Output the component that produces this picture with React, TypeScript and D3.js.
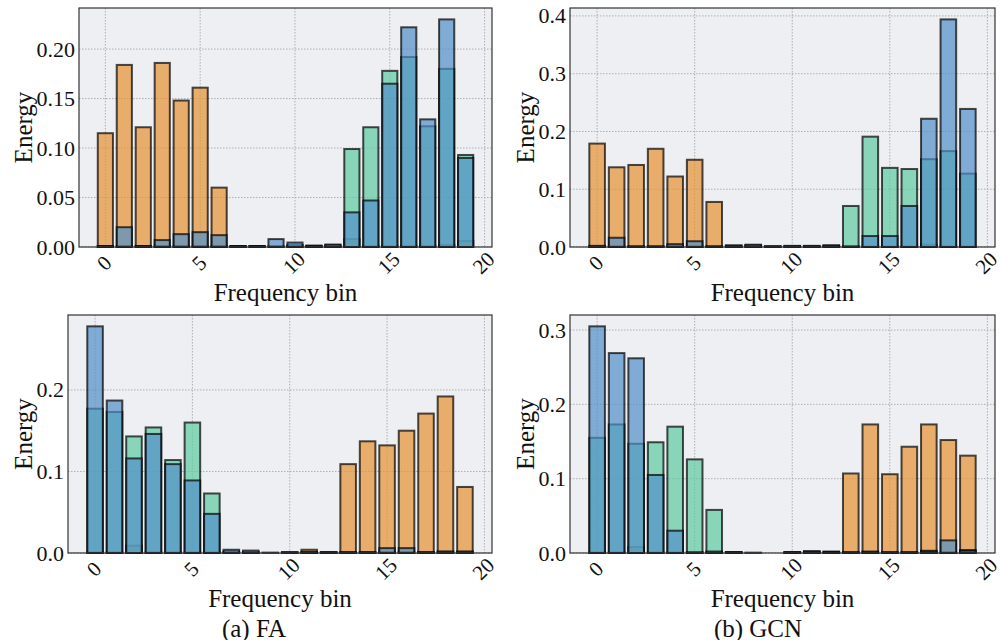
import React, { useEffect, useRef } from 'react';
import * as d3 from 'd3';

// frequency bins (categories)
const bins = [0, 1, 2, 3, 4, 5, 6, 7, 8, 9, 10, 11, 12, 13, 14, 15, 16, 17, 18, 19];
const xTicks = [0, 5, 10, 15, 20];

// (a) FA, top row
const faTopOrange = [0.115, 0.184, 0.121, 0.186, 0.148, 0.161, 0.060, 0.001, 0.001, 0.0, 0.001, 0.001, 0.001, 0.008, 0.001, 0.001, 0.001, 0.001, 0.002, 0.006];
const faTopGreen = [0.001, 0.001, 0.001, 0.001, 0.001, 0.001, 0.001, 0.0005, 0.0005, 0.001, 0.002, 0.001, 0.002, 0.099, 0.121, 0.178, 0.192, 0.122, 0.180, 0.093];
const faTopBlue = [0.001, 0.020, 0.001, 0.007, 0.013, 0.015, 0.012, 0.001, 0.001, 0.008, 0.0045, 0.0015, 0.0025, 0.035, 0.047, 0.165, 0.222, 0.129, 0.230, 0.090];
const faTopTicks = [0, 0.05, 0.1, 0.15, 0.2];

// (b) GCN, top row
const gcnTopOrange = [0.179, 0.138, 0.142, 0.170, 0.122, 0.151, 0.078, 0.002, 0.003, 0.001, 0.001, 0.001, 0.002, 0.001, 0.001, 0.001, 0.001, 0.004, 0.001, 0.001];
const gcnTopGreen = [0.001, 0.001, 0.001, 0.001, 0.002, 0.001, 0.001, 0.001, 0.002, 0.001, 0.001, 0.001, 0.002, 0.071, 0.191, 0.137, 0.135, 0.152, 0.166, 0.127];
const gcnTopBlue = [0.002, 0.016, 0.001, 0.001, 0.005, 0.010, 0.001, 0.003, 0.004, 0.001, 0.002, 0.002, 0.003, 0.001, 0.019, 0.019, 0.071, 0.222, 0.394, 0.239];
const gcnTopTicks = [0, 0.1, 0.2, 0.3, 0.4];

// (a) FA, bottom row
const faBottomOrange = [0.001, 0.001, 0.009, 0.001, 0.001, 0.001, 0.001, 0.001, 0.001, 0.0, 0.001, 0.004, 0.001, 0.109, 0.137, 0.132, 0.150, 0.171, 0.192, 0.081];
const faBottomGreen = [0.177, 0.173, 0.143, 0.154, 0.114, 0.160, 0.073, 0.002, 0.001, 0.0, 0.0, 0.001, 0.0005, 0.001, 0.001, 0.001, 0.001, 0.001, 0.001, 0.001];
const faBottomBlue = [0.278, 0.187, 0.116, 0.146, 0.109, 0.089, 0.048, 0.004, 0.003, 0.0005, 0.001, 0.001, 0.001, 0.001, 0.001, 0.006, 0.006, 0.001, 0.002, 0.002];
const faBottomTicks = [0, 0.1, 0.2];

// (b) GCN, bottom row
const gcnBottomOrange = [0.001, 0.001, 0.008, 0.001, 0.001, 0.001, 0.001, 0.001, 0.0, 0.0, 0.001, 0.002, 0.002, 0.107, 0.173, 0.106, 0.143, 0.173, 0.152, 0.131];
const gcnBottomGreen = [0.155, 0.173, 0.147, 0.149, 0.170, 0.126, 0.058, 0.001, 0.0005, 0.0, 0.001, 0.002, 0.001, 0.001, 0.002, 0.001, 0.001, 0.003, 0.001, 0.004];
const gcnBottomBlue = [0.305, 0.269, 0.262, 0.105, 0.030, 0.001, 0.002, 0.001, 0.0, 0.0, 0.001, 0.002, 0.001, 0.001, 0.001, 0.001, 0.001, 0.002, 0.017, 0.003];
const gcnBottomTicks = [0, 0.1, 0.2, 0.3];

const ORANGE = '#e59132';
const GREEN = '#5ccaa1';
const BLUE = '#518fc8';
const FONT = '"Liberation Serif", "Times New Roman", serif';

const drawPanel = (svg, box, series, yTicks, fmt) => {
  const g = svg.append('g');

  const x = d3.scaleLinear().domain([-1.39, 20.39]).range([box.left, box.right]);
  const maxV = d3.max(series.flatMap(s => s.values));
  const y = d3.scaleLinear().domain([0, maxV * 1.05]).range([box.bottom, box.top]);

  g.append('rect')
    .attr('x', box.left).attr('y', box.top)
    .attr('width', box.right - box.left).attr('height', box.bottom - box.top)
    .attr('fill', '#eeeff2');

  // grid
  g.selectAll('.vgrid').data(xTicks).enter().append('line')
    .attr('x1', d => x(d)).attr('x2', d => x(d))
    .attr('y1', box.top).attr('y2', box.bottom)
    .attr('stroke', '#a8a8a8').attr('stroke-width', 0.9).attr('stroke-dasharray', '1.5,1.5');
  g.selectAll('.hgrid').data(yTicks).enter().append('line')
    .attr('x1', box.left).attr('x2', box.right)
    .attr('y1', d => y(d)).attr('y2', d => y(d))
    .attr('stroke', '#a8a8a8').attr('stroke-width', 0.9).attr('stroke-dasharray', '1.5,1.5');

  // bars, one series after the other
  series.forEach(s => {
    g.append('g').selectAll('rect').data(bins).enter().append('rect')
      .attr('x', d => x(d - 0.4))
      .attr('width', x(0.8) - x(0))
      .attr('y', (d, i) => y(s.values[i]))
      .attr('height', (d, i) => y(0) - y(s.values[i]))
      .attr('fill', s.color).attr('fill-opacity', 0.7)
      .attr('stroke', 'black').attr('stroke-opacity', 0.7).attr('stroke-width', 2);
  });

  g.append('rect')
    .attr('x', box.left).attr('y', box.top)
    .attr('width', box.right - box.left).attr('height', box.bottom - box.top)
    .attr('fill', 'none').attr('stroke', '#333').attr('stroke-width', 1.2);

  // y tick labels
  const yl = g.selectAll('.ytick').data(yTicks).enter().append('text')
    .attr('x', box.left - 4).attr('y', d => y(d))
    .attr('text-anchor', 'end').attr('dominant-baseline', 'central')
    .attr('font-family', FONT).attr('font-size', 22).attr('fill', '#111')
    .text(d => d3.format(fmt)(d));
  let tickW = 0;
  yl.each(function () { tickW = Math.max(tickW, this.getBBox().width); });

  // x tick labels, rotated 45deg
  g.selectAll('.xtick').data(xTicks).enter().append('text')
    .attr('transform', d => `translate(${x(d) - 1},${box.bottom + 16}) rotate(-45)`)
    .attr('text-anchor', 'middle').attr('dominant-baseline', 'central')
    .attr('font-family', FONT).attr('font-size', 21).attr('fill', '#111')
    .text(d => d);

  g.append('text')
    .attr('x', (box.left + box.right) / 2).attr('y', box.bottom + 45)
    .attr('text-anchor', 'middle').attr('dominant-baseline', 'central')
    .attr('font-family', FONT).attr('font-size', 25).attr('fill', '#111')
    .text('Frequency bin');

  const ey = (box.top + box.bottom) / 2;
  const ex = box.left - 4 - tickW - 13;
  g.append('text')
    .attr('transform', `translate(${ex},${ey}) rotate(-90)`)
    .attr('text-anchor', 'middle').attr('dominant-baseline', 'central')
    .attr('font-family', FONT).attr('font-size', 25).attr('fill', '#111')
    .text('Energy');
};

const App = () => {
  const ref = useRef(null);

  useEffect(() => {
    const svg = d3.select(ref.current);
    svg.selectAll('*').remove();

    drawPanel(svg, { left: 79, right: 492, top: 8, bottom: 247 }, [
      { values: faTopOrange, color: ORANGE },
      { values: faTopGreen, color: GREEN },
      { values: faTopBlue, color: BLUE },
    ], faTopTicks, '.2f');

    drawPanel(svg, { left: 570, right: 995, top: 8, bottom: 247 }, [
      { values: gcnTopOrange, color: ORANGE },
      { values: gcnTopGreen, color: GREEN },
      { values: gcnTopBlue, color: BLUE },
    ], gcnTopTicks, '.1f');

    drawPanel(svg, { left: 68, right: 492, top: 315, bottom: 553 }, [
      { values: faBottomOrange, color: ORANGE },
      { values: faBottomGreen, color: GREEN },
      { values: faBottomBlue, color: BLUE },
    ], faBottomTicks, '.1f');

    drawPanel(svg, { left: 570, right: 995, top: 315, bottom: 553 }, [
      { values: gcnBottomOrange, color: ORANGE },
      { values: gcnBottomGreen, color: GREEN },
      { values: gcnBottomBlue, color: BLUE },
    ], gcnBottomTicks, '.1f');

    // sub-figure captions
    svg.append('text')
      .attr('x', 254).attr('y', 628)
      .attr('text-anchor', 'middle').attr('dominant-baseline', 'central')
      .attr('font-family', FONT).attr('font-size', 25).attr('fill', '#111')
      .text('(a) FA');
    svg.append('text')
      .attr('x', 758).attr('y', 628)
      .attr('text-anchor', 'middle').attr('dominant-baseline', 'central')
      .attr('font-family', FONT).attr('font-size', 25).attr('fill', '#111')
      .text('(b) GCN');
  }, []);

  return (
    <svg ref={ref} width={1000} height={640}
      style={{ position: 'absolute', left: 0, top: 0, background: 'white' }} />
  );
};

export default App;
